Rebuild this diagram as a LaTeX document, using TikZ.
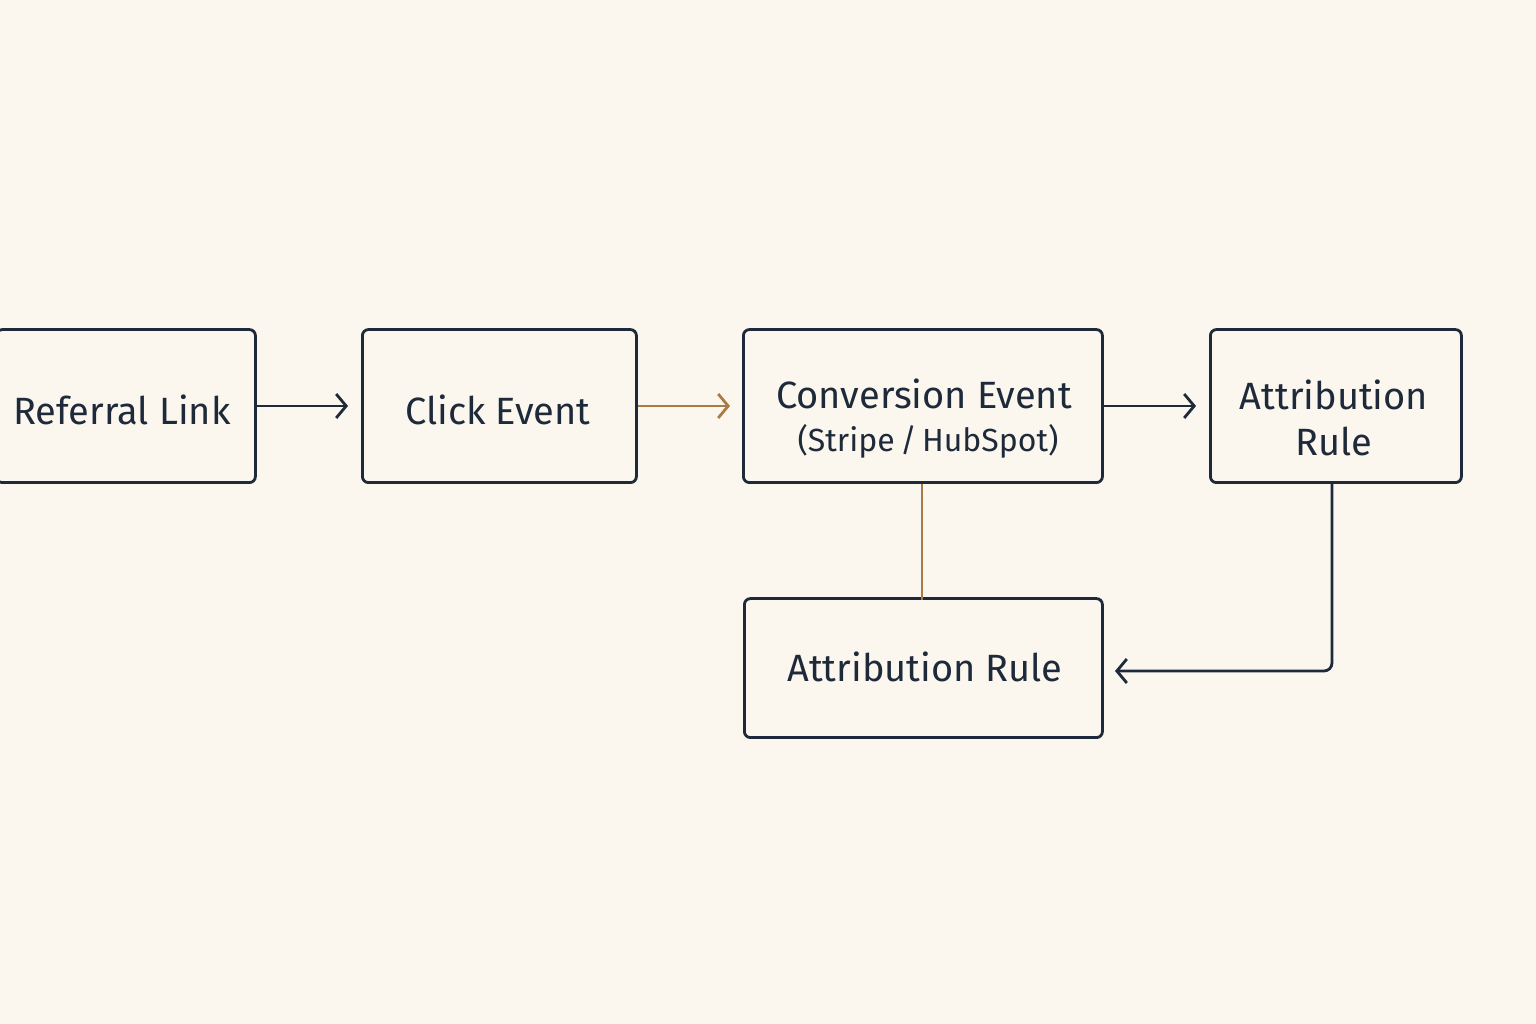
\documentclass[tikz,border=0pt]{standalone}
\usepackage{fontspec}
\setmainfont{Fira Sans}
\usetikzlibrary{arrows.meta}
\definecolor{bg}{HTML}{FBF7EE}
\definecolor{ink}{HTML}{1E2A3A}
\definecolor{ochre}{HTML}{A87D45}
\begin{document}
\begin{tikzpicture}[x=1pt,y=1pt,
  box/.style={draw=ink,line width=2.8pt,rounded corners=6pt,inner sep=0pt,anchor=south west},
  lbl/.style={text=ink,font=\fontsize{38}{46}\selectfont,align=center},
  sub/.style={text=ink,font=\fontsize{32}{38}\selectfont},
  arr/.style={draw=ink,line width=2.8pt,-{Straight Barb[length=10pt,width=24pt,line width=2.8pt]}},
  oarr/.style={arr,draw=ochre}]
\fill[bg] (0,0) rectangle (1536,1024);
\useasboundingbox (0,0) rectangle (1536,1024);
\begin{scope}
\clip (0,0) rectangle (1536,1024);
\node[box,minimum width=259pt,minimum height=153pt] (ref) at (-5,540) {};
\end{scope}
\node[box,minimum width=274pt,minimum height=153pt] (click) at (361,540) {};
\node[box,minimum width=359pt,minimum height=153pt] (conv) at (742,540) {};
\node[box,minimum width=251pt,minimum height=153pt] (attr) at (1209,540) {};
\node[box,minimum width=358pt,minimum height=139pt] (attr2) at (743,285) {};
\node[lbl] at (122,614) {Referral Link};
\node[lbl] at (498,614) {Click Event};
\node[lbl] at (924,630) {Conversion Event};
\node[sub] at (928,583) {(Stripe\,/\,HubSpot)};
\node[lbl] at (1334,606) {Attribution\\Rule};
\node[lbl] at (925,357) {Attribution Rule};
\coordinate (a1) at (348,618);
\coordinate (a2) at (730,618);
\coordinate (a3) at (1196,618);
\coordinate (a4) at (1115,353);
\draw[arr] (ref.east|-a1) -- (a1);
\draw[oarr] (click.east|-a2) -- (a2);
\draw[arr] (conv.east|-a3) -- (a3);
\draw[ochre,line width=2.8pt] (922,540) -- (922,424);
\draw[arr,rounded corners=8pt] (1332,540) -- (1332,353) -- (a4);
\end{tikzpicture}
\end{document}
